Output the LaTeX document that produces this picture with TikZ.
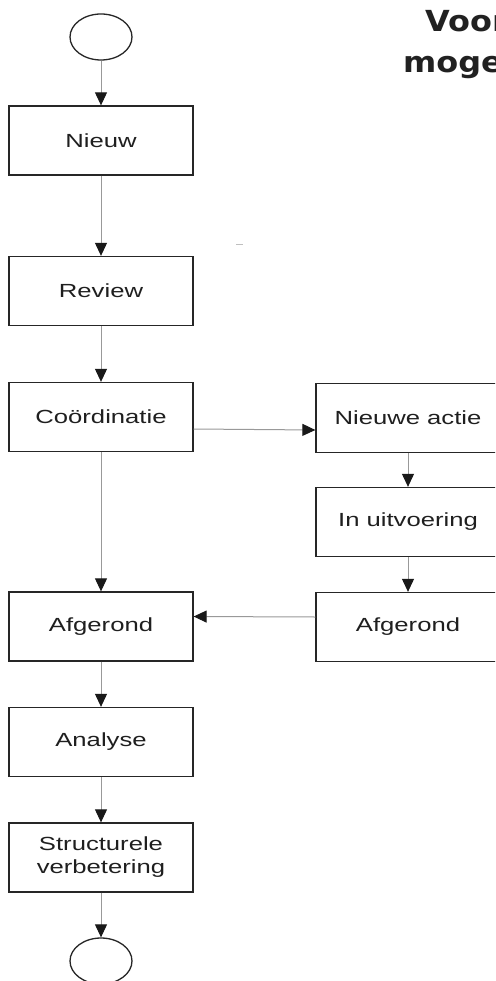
\documentclass[tikz,border=0pt]{standalone}
\usepackage{fontspec}
\setmainfont{Liberation Sans}
\newfontfamily\boxfont[FakeStretch=1.35]{Liberation Sans}
\newfontfamily\titlefont[FakeStretch=1.1]{DejaVu Sans}
\usetikzlibrary{arrows.meta,shapes.geometric}
\begin{document}
\begin{tikzpicture}[x=1pt,y=-1pt,
  stepbox/.style={draw=black!85,line width=1.3pt,minimum width=184pt,minimum height=69pt,inner sep=0pt,
    font=\boxfont\fontsize{19}{23}\selectfont,text=black!88,align=center},
  endpoint/.style={draw=black!85,line width=1.3pt,ellipse,minimum width=62pt,minimum height=46pt,inner sep=0pt},
  flow/.style={draw=black!40,line width=1pt,-{Triangle[length=13pt,width=12pt,color=black!90]}},
  ttl/.style={font=\titlefont\bfseries\fontsize{29}{41}\selectfont,text=black!87,anchor=base west,inner sep=0pt}]
\useasboundingbox (0,0) rectangle (495,981);
\clip (0,0) rectangle (495,981);
\fill[white] (0,0) rectangle (495,981);
% title
\node[ttl] (t1) at (425,32) {Voor};
\node[ttl] (t2) at (403,73) {moge};
% nodes
\node[endpoint] (start) at (101,37) {};
\node[stepbox] (nieuw) at (101,140.5) {Nieuw};
\node[stepbox] (review) at (101,291) {Review};
\node[stepbox] (coord) at (101,417) {Coördinatie};
\node[stepbox] (afg) at (101,626.5) {Afgerond};
\node[stepbox] (analyse) at (101,742) {Analyse};
\node[stepbox] (struct) at (101,857.5) {Structurele\\verbetering};
\node[endpoint] (stop) at (101,961) {};
\node[stepbox] (actie) at (408,418) {Nieuwe actie};
\node[stepbox] (uitv) at (408,522) {In uitvoering};
\node[stepbox] (afgr) at (408,627) {Afgerond};
% connectors
\draw[flow] (start) -- (nieuw);
\draw[flow] (nieuw) -- (review);
\draw[flow] (review) -- (coord);
\draw[flow] (coord) -- (afg);
\draw[flow] (afg) -- (analyse);
\draw[flow] (analyse) -- (struct);
\draw[flow] (struct) -- (stop);
\draw[flow] ([yshift=-12pt]coord.east) -- ([yshift=-12pt]actie.west);
\draw[flow] (actie) -- (uitv);
\draw[flow] (uitv) -- (afgr);
\draw[flow] ([yshift=10pt]afgr.west) -- ([yshift=10pt]afg.east);
% small stray mark
\coordinate (m1) at (236,245);
\coordinate (m2) at (243,245);
\draw[black!25,line width=1pt] (m1) -- (m2);
\end{tikzpicture}
\end{document}
